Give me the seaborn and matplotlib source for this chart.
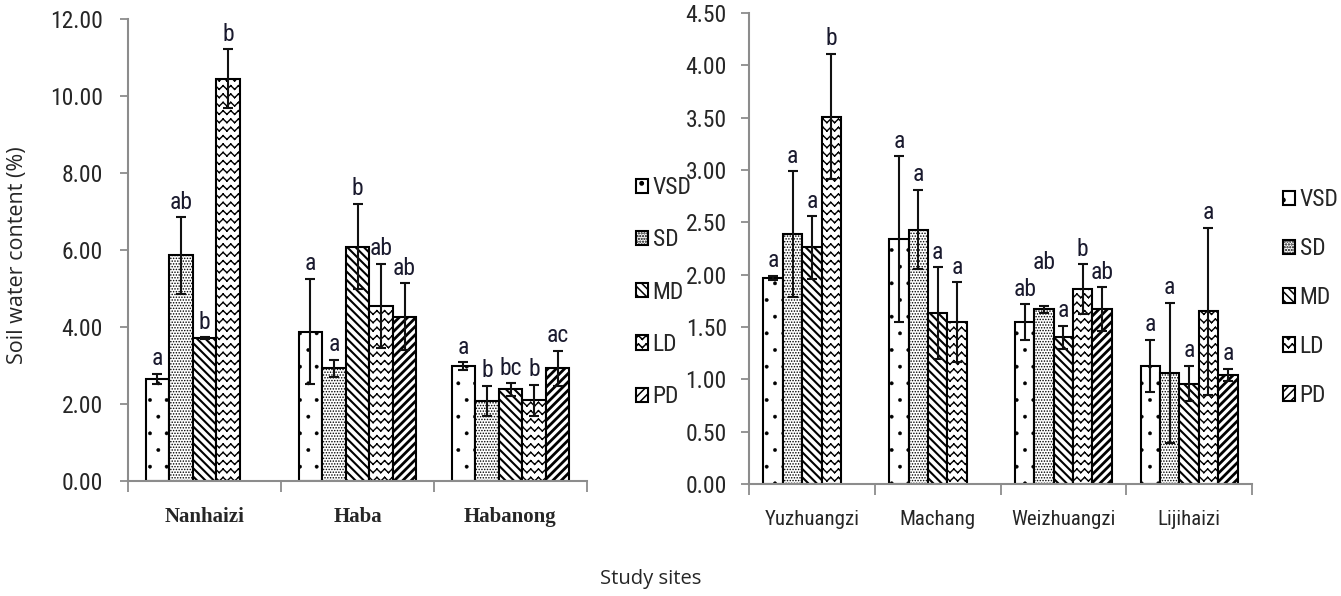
import warnings
warnings.filterwarnings('ignore')
import numpy as np
import pandas as pd
import matplotlib
matplotlib.use('Agg')
import matplotlib.pyplot as plt
import matplotlib.hatch as mhatch
from matplotlib import font_manager
from matplotlib.path import Path
from matplotlib.container import BarContainer
import seaborn as sns

# ---------------- data ----------------
treatments = ['VSD', 'SD', 'MD', 'LD', 'PD']

sites_left = ['Nanhaizi', 'Haba', 'Habanong']
vsd_left = [2.66, 3.88, 2.98]
sd_left = [5.86, 2.93, 2.08]
md_left = [3.71, 6.09, 2.38]
ld_left = [10.45, 4.55, 2.10]
pd_left = [np.nan, 4.27, 2.93]
vsd_err_left = [0.13, 1.37, 0.10]
sd_err_left = [0.99, 0.22, 0.40]
md_err_left = [0.03, 1.11, 0.16]
ld_err_left = [0.76, 1.09, 0.40]
pd_err_left = [np.nan, 0.87, 0.45]
vsd_sig_left = ['a', 'a', 'a']
sd_sig_left = ['ab', 'a', 'b']
md_sig_left = ['b', 'b', 'bc']
ld_sig_left = ['b', 'ab', 'b']
pd_sig_left = ['', 'ab', 'ac']

sites_right = ['Yuzhuangzi', 'Machang', 'Weizhuangzi', 'Lijihaizi']
vsd_right = [1.97, 2.34, 1.55, 1.13]
sd_right = [2.39, 2.43, 1.67, 1.06]
md_right = [2.26, 1.63, 1.40, 0.96]
ld_right = [3.51, 1.55, 1.86, 1.65]
pd_right = [np.nan, np.nan, 1.67, 1.04]
vsd_err_right = [0.02, 0.79, 0.17, 0.25]
sd_err_right = [0.60, 0.38, 0.035, 0.67]
md_err_right = [0.30, 0.44, 0.11, 0.17]
ld_err_right = [0.60, 0.38, 0.24, 0.80]
pd_err_right = [np.nan, np.nan, 0.21, 0.06]
vsd_sig_right = ['a', 'a', 'ab', 'a']
sd_sig_right = ['a', 'a', 'ab', 'a']
md_sig_right = ['a', 'a', 'a', 'a']
ld_sig_right = ['b', 'a', 'b', 'a']
pd_sig_right = ['', '', 'ab', 'a']

y_ticks_left = [0, 2, 4, 6, 8, 10, 12]
y_ticks_right = [0, 0.5, 1.0, 1.5, 2.0, 2.5, 3.0, 3.5, 4.0, 4.5]

# extra vertical offset (points) for labels that the original lifts to avoid overlap
label_nudge = {('Weizhuangzi', 'SD'): 20}


# ---------------- custom wavy hatch (separate segments, no filled area) ----------------
class WaveHatch(mhatch.HatchPatternBase):
    def __init__(self, hatch, density):
        self.num_rows = int(hatch.count('w') * density)
        self.num_waves = int(round(self.num_rows * 1.1))
        self.nseg = 2 * self.num_waves
        self.num_vertices = self.num_rows * self.nseg * 2 if self.num_rows else 0

    def set_vertices_and_codes(self, vertices, codes):
        if self.num_rows == 0:
            return
        xs = np.linspace(0, 1, self.nseg + 1)
        amp = 0.22 / self.num_rows
        sign = np.where(np.arange(self.nseg + 1) % 2 == 0, 1.0, -1.0)
        k = 0
        for r in range(self.num_rows):
            y0 = (r + 0.5) / self.num_rows
            ys = y0 + amp * sign
            for j in range(self.nseg):
                vertices[k] = (xs[j], ys[j])
                vertices[k + 1] = (xs[j + 1], ys[j + 1])
                codes[k] = Path.MOVETO
                codes[k + 1] = Path.LINETO
                k += 2


if hasattr(mhatch, '_hatch_types'):
    mhatch._hatch_types.append(WaveHatch)
    wave = 'ww'
else:
    wave = 'xx'

hatches = {'VSD': '.', 'SD': '......', 'MD': '\\\\\\\\', 'LD': wave, 'PD': '////'}
hatch_lw = {'VSD': 0.3, 'SD': 0.7, 'MD': 1.5, 'LD': 1.0, 'PD': 2.0}

sns.set_theme(style='white')
plt.rcParams['hatch.linewidth'] = 1.1

available = {f.name for f in font_manager.fontManager.ttflist}


def pick(cands):
    for c in cands:
        if c in available:
            return [c, 'DejaVu Sans']
    return ['DejaVu Sans']


NARROW = pick(['Liberation Sans Narrow', 'Roboto Condensed', 'Open Sans Condensed',
               'Lato', 'Roboto', 'Liberation Sans'])
OPEN = pick(['Open Sans', 'Noto Sans', 'Lato'])
SERIF = [f for f in ['Liberation Serif', 'DejaVu Serif'] if f in available] or ['serif']
GRAY = '#8c8c8c'

fig = plt.figure(figsize=(13.41, 5.96), dpi=100)
axL = fig.add_axes([128 / 1341, 1 - 481 / 596, 459 / 1341, 462 / 596])
axR = fig.add_axes([749 / 1341, 1 - 484 / 596, 503 / 1341, 471 / 596])


def make_df(sites, vals, errs, sigs):
    rows = []
    for t, v, e, s in zip(treatments, vals, errs, sigs):
        for site, vv, ee, ss in zip(sites, v, e, s):
            if not np.isnan(vv):
                rows.append(dict(site=site, treat=t, value=vv, err=ee, sig=ss))
    return pd.DataFrame(rows)


def draw(ax, sites, vals, errs, sigs, yticks, ylim, labfont, ypad):
    df = make_df(sites, vals, errs, sigs)
    sns.barplot(data=df, x='site', y='value', hue='treat', order=sites,
                hue_order=treatments, palette=['white'] * 5, saturation=1,
                width=0.77, errorbar=None, edgecolor='black', linewidth=1.5,
                legend=False, ax=ax)
    bar_conts = [c for c in ax.containers if isinstance(c, BarContainer)]
    for t, cont in zip(treatments, bar_conts):
        sub = df[df.treat == t]
        for bar in cont.patches:
            bar.set_hatch(hatches[t])
            if hasattr(bar, 'set_hatch_linewidth'):
                bar.set_hatch_linewidth(hatch_lw[t])
            xc = bar.get_x() + bar.get_width() / 2
            site = sites[int(round(xc))]
            row = sub[sub.site == site].iloc[0]
            ax.errorbar(xc, row.value, yerr=row.err, fmt='none', ecolor='#111111',
                        elinewidth=1.5, capsize=3.5, capthick=1.5, zorder=5)
            dy = 2.5 + label_nudge.get((site, t), 0)
            ax.annotate(row.sig, (xc, row.value + row.err), xytext=(0, dy),
                        textcoords='offset points', ha='center', va='bottom',
                        fontsize=17, family=NARROW, color='#1a1a2e')
    n = len(sites)
    ax.set_xlim(-0.5, n - 0.5)
    ax.set_ylim(*ylim)
    ax.set_yticks(yticks)
    ax.set_yticklabels([f'{v:.2f}' for v in yticks], family=NARROW, fontsize=17)
    ax.set_xticks(range(n))
    ax.set_xticklabels(sites, **labfont)
    ax.set_xticks(np.arange(-0.5, n, 1.0), minor=True)
    ax.tick_params(axis='x', which='major', length=0, pad=19)
    ax.tick_params(axis='x', which='minor', length=8, width=1.3, color=GRAY,
                   direction='out', bottom=True)
    ax.tick_params(axis='y', length=6, width=1.3, color=GRAY, direction='out',
                   left=True, pad=ypad)
    ax.set_xlabel('')
    ax.set_ylabel('')
    for side in ['top', 'right']:
        ax.spines[side].set_visible(False)
    for side in ['left', 'bottom']:
        ax.spines[side].set_color(GRAY)
        ax.spines[side].set_linewidth(1.5)
    ax.patch.set_alpha(0)
    return [c.patches[-1] for c in bar_conts]


hL = draw(axL, sites_left,
          [vsd_left, sd_left, md_left, ld_left, pd_left],
          [vsd_err_left, sd_err_left, md_err_left, ld_err_left, pd_err_left],
          [vsd_sig_left, sd_sig_left, md_sig_left, ld_sig_left, pd_sig_left],
          y_ticks_left, (0, 12),
          dict(family=SERIF, fontsize=15, fontweight='bold'),
          12)
hR = draw(axR, sites_right,
          [vsd_right, sd_right, md_right, ld_right, pd_right],
          [vsd_err_right, sd_err_right, md_err_right, ld_err_right, pd_err_right],
          [vsd_sig_right, sd_sig_right, md_sig_right, ld_sig_right, pd_sig_right],
          y_ticks_right, (0, 4.5),
          dict(family=NARROW, fontsize=15),
          10)

leg_kw = dict(loc='upper left', frameon=False, handlelength=0.5, handleheight=0.55,
              handletextpad=0.2, borderpad=0, borderaxespad=0,
              prop=dict(family=NARROW, size=17))
fig.legend(hL, treatments, bbox_to_anchor=(636 / 1341, 1 - 176 / 596),
           labelspacing=1.24, **leg_kw)
fig.legend(hR, treatments, bbox_to_anchor=(1283 / 1341, 1 - 188 / 596),
           labelspacing=1.1, **leg_kw)

fig.text(18 / 1341, 1 - 255 / 596, 'Soil water content (%)', rotation=90,
         ha='center', va='center', fontsize=15.5, family=OPEN)
fig.text(651 / 1341, 1 - 579 / 596, 'Study sites', ha='center', va='center',
         fontsize=14.5, family=OPEN)

fig.savefig('out.png', dpi=100)
